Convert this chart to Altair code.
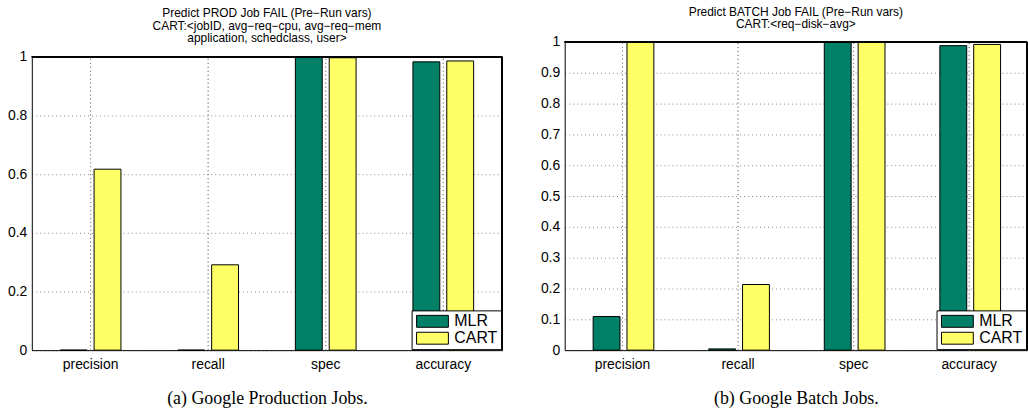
import altair as alt
import pandas as pd

metrics = ["precision", "recall", "spec", "accuracy"]
models = ["MLR", "CART"]
prod_mlr = [0.0, 0.0, 1.0, 0.983]
prod_cart = [0.617, 0.291, 0.997, 0.986]
batch_mlr = [0.109, 0.004, 1.0, 0.988]
batch_cart = [1.0, 0.213, 1.0, 0.992]
colors = ["#008066", "#FFFF66"]

prod_title = ["Predict PROD Job FAIL (Pre\u2212Run vars)",
              "CART:<jobID, avg\u2212req\u2212cpu, avg\u2212req\u2212mem",
              "application, schedclass, user>"]
batch_title = ["Predict BATCH Job FAIL (Pre\u2212Run vars)",
               "CART:<req\u2212disk\u2212avg>"]
prod_caption = "(a)  Google Production Jobs."
batch_caption = "(b)  Google Batch Jobs."
prod_ticks = [0, 0.2, 0.4, 0.6, 0.8, 1]
batch_ticks = [0, 0.1, 0.2, 0.3, 0.4, 0.5, 0.6, 0.7, 0.8, 0.9, 1]

H = 310


def frame(mlr, cart):
    rows = []
    for m, a, b in zip(metrics, mlr, cart):
        rows.append({"metric": m, "model": "MLR", "value": a})
        rows.append({"metric": m, "model": "CART", "value": b})
    return pd.DataFrame(rows)


def panel(df, title, caption, ticks, w, top_gap, pad_outer, title_offset):
    x_enc = alt.X("metric:N", sort=metrics,
                  scale=alt.Scale(paddingInner=0, paddingOuter=0),
                  axis=alt.Axis(title=caption, labelAngle=0, grid=False,
                                ticks=False, labelPadding=7, titlePadding=19))
    y_scale = alt.Scale(domain=[0, 1], nice=False, range=[H, top_gap])
    y_axis = alt.Axis(title=None, values=ticks, format="~g", ticks=False,
                      labelPadding=5, grid=True)
    y_enc = alt.Y("value:Q", scale=y_scale, axis=y_axis)
    y0 = alt.YDatum(0, type="quantitative", scale=y_scale, axis=y_axis)
    y1 = alt.YDatum(1, type="quantitative", scale=y_scale, axis=y_axis)
    base = alt.Chart(df)
    bars = base.mark_bar(stroke="black", strokeWidth=1).encode(
        x=x_enc,
        xOffset=alt.XOffset("model:N", sort=models,
                            scale=alt.Scale(paddingInner=0.206, paddingOuter=pad_outer)),
        y=y_enc,
        color=alt.Color("model:N", sort=models,
                        scale=alt.Scale(domain=models, range=colors),
                        legend=alt.Legend(title=None, orient="bottom-right", offset=1)),
    )
    vgrid = base.mark_rule(color="#888888", strokeDash=[1, 3], strokeWidth=1).encode(
        x=x_enc, y=y0, y2=alt.datum(1))
    top_rule = base.mark_rule(color="black", strokeWidth=1).encode(
        y=y1, x=alt.value(0), x2=alt.value(w))
    right_rule = base.mark_rule(color="black", strokeWidth=1).encode(
        x=alt.value(w), y=y0, y2=alt.datum(1))
    return alt.layer(bars, vgrid, top_rule, right_rule).properties(
        width=w, height=H,
        title=alt.TitleParams(text=title, fontSize=12, font="Liberation Sans",
                              fontWeight="normal", color="black", lineHeight=12.5,
                              offset=title_offset, anchor="middle"),
    )


left = panel(frame(prod_mlr, prod_cart), prod_title, prod_caption, prod_ticks, 473, 15, 0.84, -3)
right = panel(frame(batch_mlr, batch_cart), batch_title, batch_caption, batch_ticks, 465, 0, 0.81, 4)

chart = alt.hconcat(left, right, spacing=37).resolve_legend(color="independent").properties(
    padding={"left": 7, "top": 4, "right": 0, "bottom": 0}
).configure_view(
    stroke=None
).configure_axis(
    labelFont="Liberation Sans", labelFontSize=14, labelColor="black",
    titleFont="Liberation Serif", titleFontSize=18, titleFontWeight="normal",
    titleColor="black", domainColor="black", domainWidth=1,
    gridColor="#888888", gridDash=[1, 3], gridWidth=1,
).configure_legend(
    labelFont="Liberation Sans", labelFontSize=16, labelColor="black",
    symbolType="M-1,-1H4.333V1H-1Z", symbolSize=144, labelOffset=24,
    symbolStrokeColor="black", symbolStrokeWidth=1, symbolOpacity=1,
    strokeColor="black", fillColor="white", padding=3, rowPadding=1,
    cornerRadius=0,
)

chart.save("out.html", embed_options={"renderer": "svg", "actions": False})
